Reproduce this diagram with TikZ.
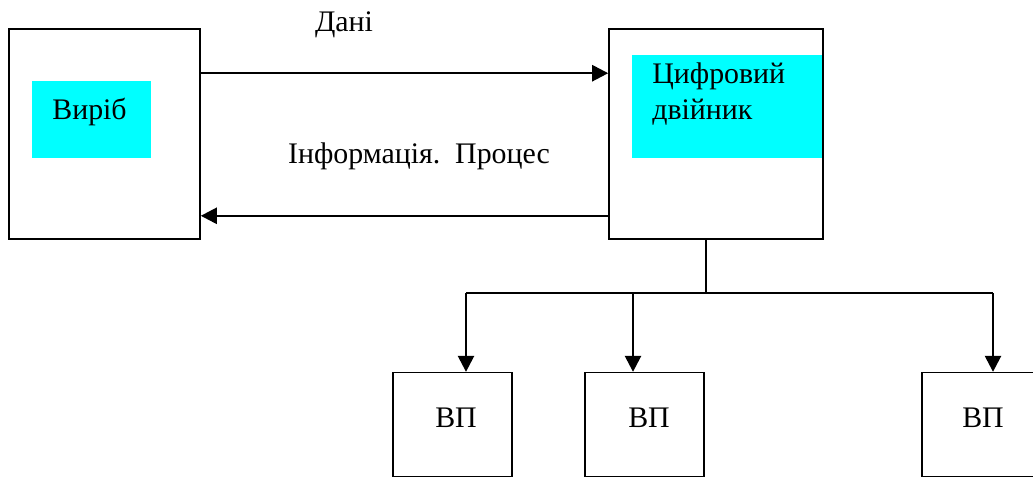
\documentclass[tikz,border=0pt]{standalone}
\usepackage{fontspec}
\setmainfont{Liberation Serif}
\usetikzlibrary{arrows.meta, calc}
\definecolor{aqua}{RGB}{0,255,255}
\tikzset{box/.style={draw, line width=0.9pt, inner sep=0pt},
	paint/.style={fill=aqua, inner sep=0pt},
	label text/.style={inner sep=0pt},
	link/.style={line width=1.4pt, -{Triangle[length=0.32cm, width=0.32cm]}}}

\begin{document}
\begin{tikzpicture}[x=0.02cm, y=-0.02cm, font=\fontsize{17}{20}\selectfont]
	\def\u{0.02cm}
	\useasboundingbox (0,0) rectangle (1033,477);
	\clip (0,0) rectangle (1033,477);
	
	\node[paint, minimum width=119*\u, minimum height=77*\u] (devfill) at (91.5,119.5) {};
	\node[paint, minimum width=191*\u, minimum height=103*\u] (twinfill) at (727.5,106.5) {};
	\node[box, minimum width=191*\u, minimum height=210*\u] (dev) at (104.5,134) {};
	\node[box, minimum width=214*\u, minimum height=210*\u] (twin) at (716,134) {};
	\node[box, line width=0.75pt, minimum width=119*\u, minimum height=104*\u] (vp1) at (452.5,424.5) {};
	\node[box, line width=0.75pt, minimum width=119*\u, minimum height=104*\u] (vp2) at (644.5,424.5) {};
	\node[box, line width=0.75pt, minimum width=120*\u, minimum height=104*\u] (vp3) at (982,424.5) {};
	
	\node[label text, anchor=base west] (devtext) at (52,119) {Виріб};
	\node[label text, anchor=base west, align=left] (twintext) at (652,119) {Цифровий\\двійник};
	\node[label text, anchor=base] (data) at (344,31) {Дані};
	\node[label text, anchor=base] (info) at (419,163) {Інформація.\ \ Процес};
	\node[label text, anchor=base] (vp1text) at (456,427) {ВП};
	\node[label text, anchor=base] (vp2text) at (649,427) {ВП};
	\node[label text, anchor=base] (vp3text) at (983,427) {ВП};
	
	\draw[link]	($(dev.north east)+(0,45)$) -- ($(twin.north west)+(0,45)$);
	\draw[link]	($(twin.south west)+(0,-24)$) -- ($(dev.south east)+(0,-24)$);
	
	\coordinate (split) at (706,293);
	\draw[line width=0.8pt]	(twin.south -| split) -- (split);
	\draw[line width=1pt]	(split -| 466,0) -- (split -| 993,0);
	\foreach \x/\b in {466/vp1, 633/vp2, 993/vp3}
		\draw[link] (split -| \x,0) -- (\b.north -| \x,0);
\end{tikzpicture}
\end{document}
